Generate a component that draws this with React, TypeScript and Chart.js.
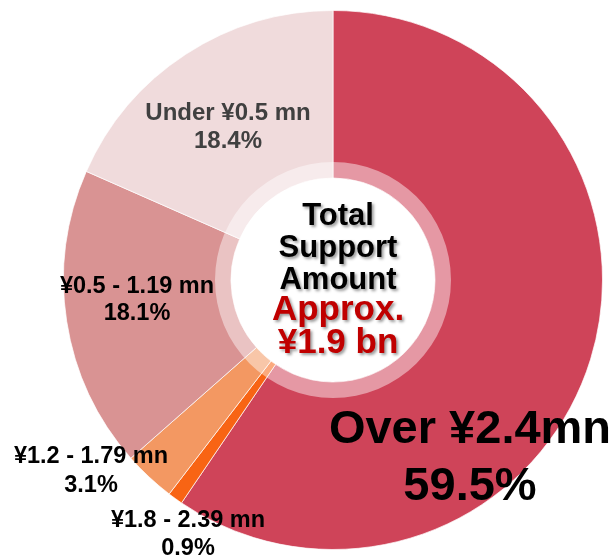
import React, { useEffect, useRef } from "react";
import { Chart, registerables } from "chart.js";

Chart.register(...registerables);

const categories = ["Over ¥2.4mn", "¥1.8 - 2.39 mn", "¥1.2 - 1.79 mn", "¥0.5 - 1.19 mn", "Under ¥0.5 mn"];
const shares = [59.5, 0.9, 3.1, 18.1, 18.4];
const centerLines = ["Total", "Support", "Amount"];
const centerHighlight = ["Approx.", "¥1.9 bn"];

const colors = ["#CF4459", "#F86414", "#F39862", "#D99393", "#F0DBDC"];

// label layout: anchor relative to chart centre (px), font size, colour, line gap
const labelLayout = [
  { dx: 137, dy: 163, size: 47, gap: 57, color: "#000000" },
  { dx: -145, dy: 247, size: 23.5, gap: 28, color: "#000000" },
  { dx: -242, dy: 183, size: 23.5, gap: 29, color: "#000000" },
  { dx: -196, dy: 13, size: 23.5, gap: 27, color: "#000000" },
  { dx: -105, dy: -160, size: 24, gap: 28, color: "#404040" },
];

const FONT = '"Liberation Sans", Arial, sans-serif';

const overlayPlugin = {
  id: "overlay",
  afterDatasetsDraw(chart: any) {
    const ctx = chart.ctx;
    const meta = chart.getDatasetMeta(0);
    const arc = meta.data[0];
    const cx = arc.x;
    const cy = arc.y;
    const inner = arc.innerRadius;
    ctx.save();
    // translucent ring
    ctx.beginPath();
    ctx.arc(cx, cy, inner + 16, 0, Math.PI * 2);
    ctx.arc(cx, cy, inner, 0, Math.PI * 2, true);
    ctx.closePath();
    ctx.fillStyle = "rgba(255,255,255,0.45)";
    ctx.fill();

    // segment labels
    ctx.textAlign = "center";
    ctx.textBaseline = "alphabetic";
    categories.forEach((cat, i) => {
      const l = labelLayout[i];
      ctx.font = `bold ${l.size}px ${FONT}`;
      ctx.fillStyle = l.color;
      ctx.fillText(cat, cx + l.dx, cy + l.dy);
      ctx.fillText(shares[i].toFixed(1) + "%", cx + l.dx, cy + l.dy + l.gap);
    });

    // centre text with shadow
    ctx.shadowColor = "rgba(0,0,0,0.4)";
    ctx.shadowOffsetX = 2;
    ctx.shadowOffsetY = 2;
    ctx.shadowBlur = 3;
    ctx.font = `bold 31px ${FONT}`;
    ctx.fillStyle = "#000000";
    centerLines.forEach((t, i) => {
      ctx.fillText(t, cx + 5, cy - 55 + i * 32);
    });
    ctx.font = `bold 35px ${FONT}`;
    ctx.fillStyle = "#C00000";
    centerHighlight.forEach((t, i) => {
      ctx.fillText(t, cx + 5, cy + 40 + i * 33);
    });
    ctx.restore();
  },
};

export default function App() {
  const ref = useRef<HTMLCanvasElement>(null);
  useEffect(() => {
    if (!ref.current) return;
    const chart = new Chart(ref.current, {
      type: "doughnut",
      data: {
        labels: categories,
        datasets: [
          {
            data: shares,
            backgroundColor: colors,
            borderColor: "rgba(255,255,255,0.7)",
            borderWidth: 1,
          },
        ],
      },
      options: {
        responsive: false,
        animation: false,
        cutout: 102,
        layout: { padding: { left: 63, right: 10, top: 10, bottom: 8 } },
        plugins: {
          legend: { display: false },
          tooltip: { enabled: false },
        },
      },
      plugins: [overlayPlugin],
    });
    return () => chart.destroy();
  }, []);
  return (
    <div style={{ position: "absolute", left: 0, top: 0, width: 613, height: 558, background: "#fff" }}>
      <canvas ref={ref} width={613} height={558} />
    </div>
  );
}
